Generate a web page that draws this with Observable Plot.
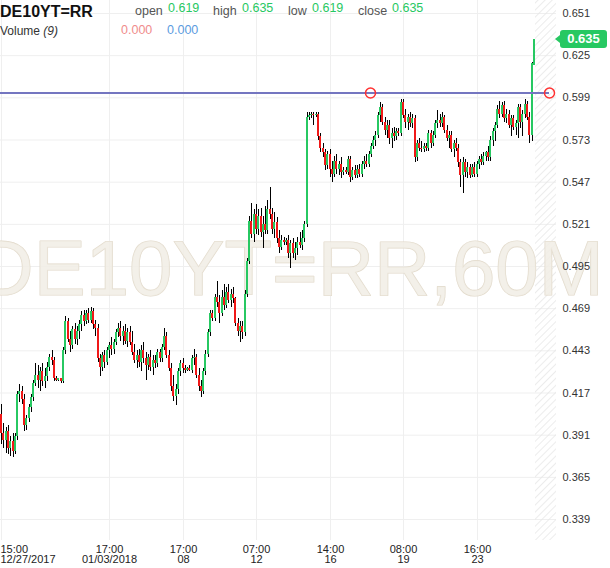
<!DOCTYPE html>
<html><head><meta charset="utf-8">
<script src="https://cdn.jsdelivr.net/npm/d3@7"></script>
<script src="https://cdn.jsdelivr.net/npm/@observablehq/plot@0.6"></script>
<style>
body{margin:0;background:#fff;font-family:Arial,"Liberation Sans",sans-serif;}
#wrap{position:relative;width:610px;height:568px;overflow:hidden;}
#price{position:absolute;left:560px;width:47px;height:18px;line-height:18px;border-radius:3px;color:#fff;font-weight:bold;font-size:13px;text-align:center;}
#arrow{position:absolute;left:555px;width:0;height:0;border-top:4px solid transparent;border-bottom:4px solid transparent;}
.crisp line{shape-rendering:crispEdges;}
</style></head><body><div id="wrap"></div>
<script>
const symbol = "DE10YT=RR";
const watermark = "DE10YT=RR,60M";
const open = [.404,.392,.388,.393,.383,.387,.381,.390,.416,.418,.413,.397,.401,.408,.414,.423,.428,.425,.430,.424,
.427,.433,.439,.437,.426,.425,.426,.424,.443,.461,.450,.446,.456,.450,.455,.459,.465,.461,.466,.462,
.467,.459,.457,.438,.433,.440,.436,.443,.446,.444,.448,.454,.457,.452,.455,.449,.454,.448,.442,.437,
.440,.436,.443,.438,.434,.439,.433,.437,.435,.442,.438,.445,.452,.440,.432,.421,.415,.419,.430,.435,
.432,.431,.432,.431,.438,.439,.428,.421,.418,.430,.441,.454,.466,.463,.476,.473,.466,.476,.471,.479,
.474,.478,.475,.460,.455,.458,.454,.478,.498,.523,.515,.527,.518,.526,.516,.521,.517,.530,.527,.518,
.522,.512,.507,.511,.510,.511,.503,.509,.503,.506,.510,.508,.512,.521,.587,.588,.589,.588,.589,.575,
.568,.565,.557,.564,.555,.552,.560,.555,.558,.553,.554,.553,.561,.550,.554,.551,.555,.552,.558,.560,
.558,.564,.569,.573,.576,.588,.593,.584,.579,.582,.574,.577,.575,.578,.577,.596,.588,.584,.587,.583,
.586,.562,.571,.568,.567,.569,.568,.577,.571,.576,.583,.585,.583,.587,.579,.574,.576,.567,.571,.568,
.559,.551,.559,.553,.556,.551,.556,.552,.558,.561,.559,.563,.565,.562,.573,.578,.582,.592,.589,.594,
.586,.589,.582,.586,.581,.583,.593,.584,.589,.595,.587,.576,.619];
const high = [.410,.398,.396,.397,.390,.392,.392,.418,.422,.421,.416,.403,.410,.416,.425,.435,.434,.433,.435,.432,
.436,.441,.443,.439,.427,.426,.426,.445,.464,.463,.455,.458,.460,.458,.462,.467,.468,.468,.469,.470,
.469,.462,.459,.441,.442,.443,.445,.448,.451,.450,.456,.460,.461,.458,.459,.457,.458,.455,.447,.443,
.444,.446,.448,.442,.441,.443,.440,.440,.444,.444,.447,.457,.454,.443,.435,.428,.422,.432,.437,.438,
.434,.433,.434,.440,.444,.441,.432,.425,.432,.443,.456,.468,.468,.478,.486,.477,.480,.484,.482,.484,
.481,.482,.476,.463,.461,.461,.480,.500,.526,.534,.530,.533,.530,.531,.526,.532,.536,.544,.531,.528,
.525,.517,.514,.513,.512,.514,.511,.512,.510,.513,.516,.517,.523,.590,.590,.590,.590,.590,.590,.577,
.571,.567,.566,.567,.560,.563,.564,.560,.562,.556,.556,.563,.563,.556,.557,.557,.558,.560,.563,.564,
.566,.571,.575,.578,.590,.596,.595,.587,.585,.585,.580,.581,.580,.580,.598,.598,.592,.589,.590,.589,
.588,.573,.574,.572,.571,.571,.579,.579,.578,.585,.591,.589,.590,.588,.582,.578,.578,.573,.574,.570,
.561,.562,.561,.559,.558,.558,.559,.560,.563,.564,.565,.566,.569,.575,.580,.584,.594,.597,.596,.597,
.592,.591,.588,.588,.585,.595,.595,.591,.598,.597,.590,.621,.635];
const low = [.385,.383,.380,.379,.378,.377,.379,.388,.411,.410,.393,.394,.399,.405,.412,.421,.420,.418,.421,.420,
.424,.430,.434,.424,.424,.424,.423,.423,.441,.448,.442,.444,.447,.446,.450,.455,.458,.459,.460,.460,
.456,.452,.436,.427,.430,.432,.434,.438,.440,.441,.446,.451,.449,.446,.447,.445,.446,.440,.435,.432,
.433,.430,.435,.425,.431,.430,.428,.432,.433,.436,.436,.443,.438,.430,.418,.412,.409,.416,.427,.429,
.429,.430,.430,.429,.434,.426,.418,.414,.416,.428,.439,.452,.461,.461,.470,.460,.464,.468,.469,.472,
.470,.472,.458,.452,.448,.450,.452,.476,.496,.512,.510,.515,.514,.513,.506,.515,.515,.524,.515,.512,
.509,.503,.505,.508,.508,.500,.494,.500,.499,.502,.506,.505,.510,.519,.585,.586,.582,.587,.573,.565,
.562,.554,.555,.550,.547,.550,.552,.551,.549,.551,.552,.551,.547,.548,.549,.549,.550,.550,.555,.556,
.556,.562,.567,.569,.574,.584,.582,.576,.574,.570,.568,.572,.573,.575,.575,.586,.580,.579,.581,.580,
.559,.560,.566,.565,.565,.566,.566,.568,.569,.574,.580,.581,.581,.577,.572,.568,.565,.562,.566,.556,
.544,.540,.550,.549,.549,.550,.550,.550,.555,.557,.557,.560,.560,.560,.569,.572,.580,.586,.587,.584,
.583,.580,.575,.579,.576,.574,.580,.575,.586,.585,.571,.572,.619];
const close = [.392,.388,.393,.383,.387,.381,.390,.416,.418,.413,.397,.401,.408,.414,.423,.428,.425,.430,.424,.427,
.433,.439,.437,.426,.425,.426,.424,.443,.461,.450,.446,.456,.450,.455,.459,.465,.461,.466,.462,.467,
.459,.457,.438,.433,.440,.436,.443,.446,.444,.448,.454,.457,.452,.455,.449,.454,.448,.442,.437,.440,
.436,.443,.438,.434,.439,.433,.437,.435,.442,.438,.445,.452,.440,.432,.421,.415,.419,.430,.435,.432,
.431,.432,.431,.438,.439,.428,.421,.418,.430,.441,.454,.466,.463,.476,.473,.466,.476,.471,.479,.474,
.478,.475,.460,.455,.458,.454,.478,.498,.523,.515,.527,.518,.526,.516,.521,.517,.530,.527,.518,.522,
.512,.507,.511,.510,.511,.503,.509,.503,.506,.510,.508,.512,.521,.587,.588,.589,.588,.589,.575,.568,
.565,.557,.564,.555,.552,.560,.555,.558,.553,.554,.553,.561,.550,.554,.551,.555,.552,.558,.560,.558,
.564,.569,.573,.576,.588,.593,.584,.579,.582,.574,.577,.575,.578,.577,.596,.588,.584,.587,.583,.586,
.562,.571,.568,.567,.569,.568,.577,.571,.576,.583,.585,.583,.587,.579,.574,.576,.567,.571,.568,.559,
.551,.559,.553,.556,.551,.556,.552,.558,.561,.559,.563,.565,.562,.573,.578,.582,.592,.589,.594,.586,
.589,.582,.586,.581,.583,.593,.584,.589,.595,.587,.576,.620,.635];
const yTicks = [0.339,0.365,0.391,0.417,0.443,0.469,0.495,0.521,0.547,0.573,0.599,0.625,0.651];
const xTickBars = [0,47,79,111,143,175,207];
const xTickLabels = ["15:00\n12/27/2017","17:00\n01/03/2018","17:00\n08","07:00\n12","14:00\n16","08:00\n19","16:00\n23"];
const levelPrice = 0.602;
const levelAnchors = [160.6, 238.6];
const volumeValues = [0.000, 0.000];

const GREEN = "#27c862", RED = "#f01818";
const bars = open.map((o, i) => ({i, o, h: high[i], l: low[i], c: close[i]}));
const xTicks = xTickBars.map((i, k) => ({i, label: xTickLabels[k]}));
const xDomain = [-0.45, 241.6];
const yDomain = [0.32605, 0.65902];
const fmt = d3.format(".3f");

const chart = Plot.plot({
  width: 610, height: 568,
  marginLeft: 0, marginRight: 54, marginTop: 0, marginBottom: 28,
  x: {domain: xDomain, axis: null, round: true},
  y: {domain: yDomain, axis: null},
  style: {fontFamily: "Arial, 'Liberation Sans', sans-serif", fontSize: "11px", color: "#333", background: "white", overflow: "visible"},
  marks: [
    Plot.ruleY(yTicks, {stroke: "#efefef"}),
    Plot.ruleX(xTickBars, {stroke: "#efefef"}),
    Plot.rect([0], {x1: bars.length - 0.5, x2: xDomain[1], fill: "url(#hatch)"}),
    Plot.text([watermark], {text: d => d, frameAnchor: "middle", dx: 12, fontSize: 78, fill: "#f1ede5", fillOpacity: 0.85, stroke: "#e2dacb", strokeWidth: 1.2}),
    Plot.ruleX(bars, {x: "i", y1: "l", y2: "h", stroke: "#000", strokeWidth: 1, className: "crisp"}),
    Plot.ruleX(bars.filter(d => d.c >= d.o), {x: "i", y1: "o", y2: "c", stroke: GREEN, strokeWidth: 2, dx: -0.5, className: "crisp"}),
    Plot.ruleX(bars.filter(d => d.c < d.o), {x: "i", y1: "o", y2: "c", stroke: RED, strokeWidth: 2, dx: -0.5, className: "crisp"}),
    Plot.ruleY([levelPrice], {x1: xDomain[0], x2: levelAnchors[1], stroke: "#7476c0", strokeWidth: 2}),
    Plot.dot(levelAnchors, {x: d => d, y: levelPrice, r: 5, stroke: "#ff3030", strokeWidth: 1.5, fill: "none"}),
    Plot.axisY(yTicks, {anchor: "right", tickSize: 0, tickPadding: 6, tickFormat: fmt, fontSize: 11}),
    Plot.text(xTicks.slice(1), {x: "i", text: "label", frameAnchor: "bottom", lineAnchor: "top", dy: 5, lineHeight: 0.95, fontSize: 11, textAnchor: "middle", fill: "#222"}),
    Plot.text(xTicks.slice(0, 1), {x: "i", text: "label", frameAnchor: "bottom", lineAnchor: "top", dy: 5, dx: -1, lineHeight: 0.95, fontSize: 11, textAnchor: "start", fill: "#222"})
  ]
});

const svg = d3.select(chart);
const defs = svg.insert("defs", ":first-child");
const pat = defs.append("pattern").attr("id", "hatch").attr("patternUnits", "userSpaceOnUse")
  .attr("width", 5).attr("height", 5).attr("patternTransform", "rotate(45)");
pat.append("line").attr("x1", 0).attr("y1", 0).attr("x2", 0).attr("y2", 5).attr("stroke", "#e6e6e6").attr("stroke-width", 1.5);

// header
const last = bars[bars.length - 1];
const hdr = svg.append("g").attr("font-family", "Arial, 'Liberation Sans', sans-serif").attr("text-anchor", "start");
hdr.append("text").attr("x", 0).attr("y", 17).attr("font-size", 16).attr("font-weight", "bold").attr("fill", "#111").text(symbol);
const items = [["open", last.o, 135, 168], ["high", last.h, 213, 242], ["low", last.l, 288, 312], ["close", last.c, 358, 392]];
for (const [lab, v, xl, xv] of items) {
  hdr.append("text").attr("x", xl).attr("y", 15).attr("font-size", 12.5).attr("fill", "#555").text(lab);
  hdr.append("text").attr("x", xv).attr("y", 12).attr("font-size", 12.5).attr("fill", GREEN).text(fmt(v));
}
const vt = hdr.append("text").attr("x", 0).attr("y", 35).attr("font-size", 12).attr("fill", "#333");
vt.append("tspan").text("Volume ");
vt.append("tspan").attr("font-style", "italic").text("(9)");
hdr.append("text").attr("x", 121).attr("y", 34).attr("font-size", 12.5).attr("fill", "#f08c8c").text(fmt(volumeValues[0]));
hdr.append("text").attr("x", 167).attr("y", 34).attr("font-size", 12.5).attr("fill", "#5b9be0").text(fmt(volumeValues[1]));

const wrap = document.getElementById("wrap");
wrap.appendChild(chart);
const py = chart.scale("y").apply(last.c);
const lab = document.createElement("div");
lab.id = "price"; lab.style.top = (py - 9) + "px"; lab.style.background = GREEN; lab.textContent = fmt(last.c);
const arr = document.createElement("div");
arr.id = "arrow"; arr.style.top = (py - 4) + "px"; arr.style.borderRight = "5px solid " + GREEN;
wrap.appendChild(arr); wrap.appendChild(lab);
</script></body></html>
